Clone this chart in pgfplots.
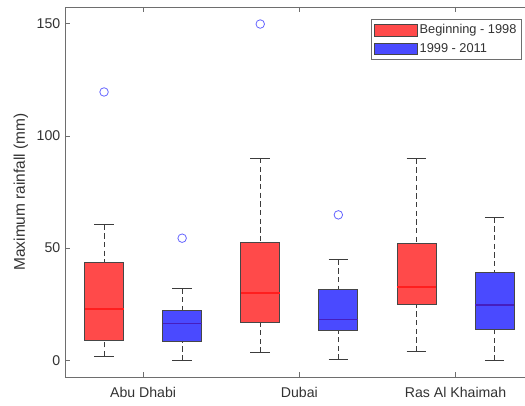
\documentclass[border=0pt]{standalone}
\usepackage{fontspec}
\setmainfont{Liberation Sans}
\usepackage{pgfplots}
\pgfplotsset{compat=1.18}
\usepgfplotslibrary{statistics}
\definecolor{redfill}{RGB}{255,74,74}
\definecolor{bluefill}{RGB}{74,74,255}
\definecolor{redmed}{RGB}{255,30,30}
\definecolor{bluemed}{RGB}{70,30,190}
\definecolor{edgecol}{RGB}{70,70,70}
\definecolor{whiskcol}{RGB}{60,60,60}
\definecolor{outcol}{RGB}{100,100,255}
\definecolor{axcol}{RGB}{110,110,110}
\definecolor{txtcol}{RGB}{50,50,50}
\pgfplotsset{
  redbox/.style={boxplot/every box/.style={fill=redfill,draw=edgecol,line width=0.6pt},
    boxplot/every median/.style={draw=redmed,line width=0.9pt},
    mark=o, mark size=3.2pt, mark options={draw=outcol,line width=0.6pt,solid}},
  bluebox/.style={boxplot/every box/.style={fill=bluefill,draw=edgecol,line width=0.6pt},
    boxplot/every median/.style={draw=bluemed,line width=0.9pt},
    mark=o, mark size=3.2pt, mark options={draw=outcol,line width=0.6pt,solid}},
}
\begin{document}
\begin{tikzpicture}
\useasboundingbox (0,0) rectangle (393.75pt,304.5pt);
\clip (0,0) rectangle (393.75pt,304.5pt);
\begin{axis}[
  at={(48.75pt,21.75pt)}, anchor=south west,
  scale only axis, width=351.45pt, height=277.5pt,
  xmin=0.5, xmax=6.5, ymin=-7.5, ymax=157.5,
  xtick={1.5,3.5,5.5},
  xticklabels={Abu Dhabi,Dubai,Ras Al Khaimah},
  ytick={0,50,100,150},
  tick align=inside,
  major tick length=3.5pt,
  axis line style={axcol, line width=0.5pt},
  tick style={axcol, line width=0.5pt},
  tick label style={font=\fontsize{10.6}{12}\selectfont, text=txtcol},
  xticklabel style={yshift=-4.5pt},
  /pgf/number format/assume math mode=true,
  ylabel={Maximum rainfall (mm)},
  every axis y label/.style={at={(axis description cs:-0.094,0.5)}, rotate=90, anchor=center, font=\fontsize{11.6}{13}\selectfont, text=txtcol},
  legend style={at={(axis description cs:0.9752,0.9676)}, anchor=north east, draw=axcol, line width=0.5pt,
    font=\fontsize{9.6}{11}\selectfont, text=txtcol, cells={anchor=west},
    inner xsep=2.5pt, inner ysep=1.65pt, row sep=1.4pt,
    nodes={inner sep=1.4pt, text height=7.5pt, text depth=2.5pt}},
  legend image code/.code={\draw[#1] (0pt,-4.4pt) rectangle (32pt,4.4pt);},
  boxplot/draw direction=y,
  boxplot/box extend=0.5,
  boxplot/whisker extend=0.25,
  boxplot/draw/lower whisker/.code={%
    \draw[whiskcol, line width=0.5pt, dash pattern=on 4pt off 2.5pt] (boxplot box cs:\pgfplotsboxplotvalue{lower whisker},0.5) -- (boxplot box cs:\pgfplotsboxplotvalue{lower quartile},0.5);
    \draw[whiskcol, line width=0.5pt, solid] (boxplot whisker cs:\pgfplotsboxplotvalue{lower whisker},0) -- (boxplot whisker cs:\pgfplotsboxplotvalue{lower whisker},1);
  },
  boxplot/draw/upper whisker/.code={%
    \draw[whiskcol, line width=0.5pt, dash pattern=on 4pt off 2.5pt] (boxplot box cs:\pgfplotsboxplotvalue{upper whisker},0.5) -- (boxplot box cs:\pgfplotsboxplotvalue{upper quartile},0.5);
    \draw[whiskcol, line width=0.5pt, solid] (boxplot whisker cs:\pgfplotsboxplotvalue{upper whisker},0) -- (boxplot whisker cs:\pgfplotsboxplotvalue{upper whisker},1);
  },
]
\addplot[redbox, forget plot, boxplot prepared={draw position=1, lower whisker=1.8, lower quartile=8.6, median=22.8, upper quartile=43.8, upper whisker=60.4}]
  table[row sep=\\, y index=0] {y\\ 119.6\\};
\addplot[bluebox, forget plot, boxplot prepared={draw position=2, lower whisker=0, lower quartile=8.2, median=16.3, upper quartile=22.4, upper whisker=32.0}]
  table[row sep=\\, y index=0] {y\\ 54.4\\};
\addplot[redbox, forget plot, boxplot prepared={draw position=3, lower whisker=3.4, lower quartile=16.9, median=30.0, upper quartile=52.4, upper whisker=90.2}]
  table[row sep=\\, y index=0] {y\\ 149.9\\};
\addplot[bluebox, forget plot, boxplot prepared={draw position=4, lower whisker=0.3, lower quartile=13.5, median=18.2, upper quartile=31.6, upper whisker=44.8}]
  table[row sep=\\, y index=0] {y\\ 64.8\\};
\addplot[redbox, forget plot, boxplot prepared={draw position=5, lower whisker=4.0, lower quartile=24.9, median=32.6, upper quartile=52.1, upper whisker=89.8}]
  coordinates {};
\addplot[bluebox, forget plot, boxplot prepared={draw position=6, lower whisker=0, lower quartile=13.8, median=24.6, upper quartile=39.3, upper whisker=63.5}]
  coordinates {};
\addlegendimage{fill=redfill, draw=edgecol, line width=0.6pt}
\addlegendentry{Beginning - 1998}
\addlegendimage{fill=bluefill, draw=edgecol, line width=0.6pt}
\addlegendentry{1999 - 2011}
\end{axis}
\end{tikzpicture}
\end{document}
